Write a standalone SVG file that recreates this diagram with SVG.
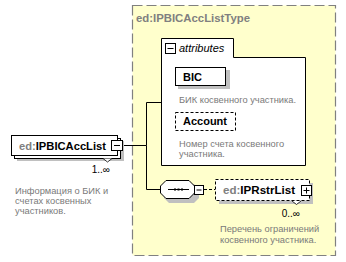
<svg xmlns="http://www.w3.org/2000/svg" width="346" height="262" viewBox="0 0 346 262">
  <style>
    .lbl { font-family: "Liberation Sans", Arial, sans-serif; }
    .name { font-size: 11px; font-weight: bold; fill: #000; }
    .ns { fill: #808080; }
    .doc { font-size: 9.3px; fill: #7a7a7a; }
    .box { fill: #fff; stroke: #000; stroke-width: 1; }
    .opt { fill: #fff; stroke: #000; stroke-width: 1; stroke-dasharray: 3,2; }
    .shadow { fill: #c0c0c0; }
    .wire { fill: none; stroke: #000; stroke-width: 1; }
    .btn { fill: #fff; stroke: #000; stroke-width: 1; }
    .occ { font-size: 10px; fill: #000; }
  </style>

  <!-- complex type frame -->
  <g id="type-IPBICAccListType">
    <rect x="132.5" y="5.5" width="203" height="250" fill="#ffffcc" stroke="#808080" stroke-width="1.2" stroke-dasharray="10,4"/>
    <text class="lbl" x="136" y="22" font-size="11" font-weight="bold" fill="#808080" textLength="114" lengthAdjust="spacingAndGlyphs">ed:IPBICAccListType</text>
  </g>

  <!-- connectors -->
  <g id="connectors">
    <path class="wire" d="M123,145.5 H146.5 V102.5 H161"/>
    <path class="wire" d="M146.5,145.5 V189.5 H160"/>
    <path class="wire" d="M204,189.5 H215" stroke-dasharray="3,2"/>
  </g>

  <!-- root element -->
  <g id="IPBICAccList">
    <rect class="shadow" x="17" y="141" width="107" height="20"/>
    <rect class="box" x="14.5" y="138.5" width="106" height="20"/>
    <rect class="box" x="11.5" y="135.5" width="106" height="20"/>
    <text class="lbl name" x="19" y="149.5" textLength="87" lengthAdjust="spacingAndGlyphs"><tspan class="ns">ed:</tspan>IPBICAccList</text>
    <rect class="btn" x="111.5" y="140.5" width="11" height="10"/>
    <line x1="114" y1="145.5" x2="120" y2="145.5" stroke="#000"/>
    <path d="M103,158.5 L107.5,162 L112,158.5" fill="#fff" stroke="#000" stroke-width="0.8"/>
    <text class="lbl occ" x="110" y="173" text-anchor="end">1..∞</text>
    <text class="lbl doc" x="15" y="194">Информация о БИК и</text>
    <text class="lbl doc" x="15" y="204">счетах косвенных</text>
    <text class="lbl doc" x="15" y="214">участников.</text>
  </g>

  <!-- attribute group -->
  <g id="attributes">
    <path class="box" d="M161.5,38.5 H233.5 V57.5 H305.5 V165.5 H161.5 Z"/>
    <rect class="btn" x="165.5" y="43.5" width="10" height="10"/>
    <line x1="167.5" y1="48.5" x2="173.5" y2="48.5" stroke="#000"/>
    <text class="lbl" x="179" y="52" font-size="11" font-style="italic" fill="#000">attributes</text>
  </g>

  <g id="attr-BIC">
    <rect class="shadow" x="178" y="70" width="52" height="19"/>
    <rect class="box" x="175.5" y="67.5" width="50" height="18"/>
    <text class="lbl name" x="183" y="80.5">BIC</text>
    <text class="lbl doc" x="179" y="102.5">БИК косвенного участника.</text>
  </g>

  <g id="attr-Account">
    <rect class="opt" x="175.5" y="112.5" width="60" height="18"/>
    <text class="lbl name" x="183" y="125">Account</text>
    <text class="lbl doc" x="179" y="146.5">Номер счета косвенного</text>
    <text class="lbl doc" x="179" y="157">участника.</text>
  </g>

  <!-- sequence compositor -->
  <g id="sequence">
    <polygon class="shadow" points="169,184 194,184 199,189 199,198 194,203 169,203 164,198 164,189"/>
    <polygon class="box" points="166,180.5 189,180.5 194.5,186 194.5,193 189,198.5 166,198.5 160.5,193 160.5,186"/>
    <line x1="168" y1="189.5" x2="189" y2="189.5" stroke="#000"/>
    <rect x="174" y="188.5" width="2" height="2" fill="#000"/>
    <rect x="177.5" y="188.5" width="2" height="2" fill="#000"/>
    <rect x="181" y="188.5" width="2" height="2" fill="#000"/>
    <rect class="btn" x="194.5" y="185.5" width="9" height="9"/>
    <line x1="196.5" y1="190" x2="201.5" y2="190" stroke="#000"/>
  </g>

  <!-- optional child element -->
  <g id="IPRstrList">
    <rect class="shadow" x="219" y="183" width="94" height="21"/>
    <rect class="opt" x="215.5" y="179.5" width="94" height="21"/>
    <text class="lbl name" x="223" y="193.5" textLength="72" lengthAdjust="spacingAndGlyphs"><tspan class="ns">ed:</tspan>IPRstrList</text>
    <rect class="btn" x="301.5" y="185.5" width="10" height="10"/>
    <line x1="303.5" y1="190.5" x2="309.5" y2="190.5" stroke="#000"/>
    <line x1="306.5" y1="187.5" x2="306.5" y2="193.5" stroke="#000"/>
    <path d="M292,201 L296.5,204.5 L301,201" fill="#fff" stroke="#000" stroke-width="0.8"/>
    <text class="lbl occ" x="300" y="217" text-anchor="end">0..∞</text>
    <text class="lbl doc" x="220" y="232">Перечень ограничений</text>
    <text class="lbl doc" x="220" y="243">косвенного участника.</text>
  </g>
</svg>
